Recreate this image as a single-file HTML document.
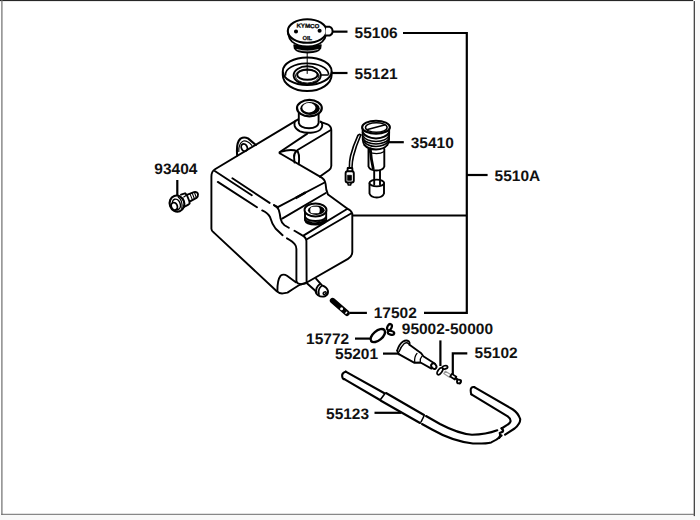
<!DOCTYPE html>
<html><head><meta charset="utf-8">
<style>
html,body{margin:0;padding:0;background:#fff;}
body{width:700px;height:520px;overflow:hidden;position:relative;}
svg{position:absolute;left:0;top:0;}
text{font-family:"Liberation Sans",sans-serif;font-weight:bold;font-size:15.2px;fill:#111;text-rendering:geometricPrecision;}
</style></head><body>
<svg width="700" height="520" viewBox="0 0 700 520" xmlns="http://www.w3.org/2000/svg">
<!-- frame -->
<rect x="0" y="0" width="700" height="520" fill="#fff"/>
<rect x="695" y="0" width="5" height="520" fill="#f9f9f9"/>
<rect x="0" y="515" width="700" height="5" fill="#f9f9f9"/>
<rect x="0" y="0" width="693.2" height="1.1" fill="#262626"/>
<rect x="1.3" y="0" width="1.2" height="515" fill="#6e6e6e"/>
<rect x="693.7" y="1.1" width="1.2" height="515" fill="#333"/>
<rect x="1.3" y="513.8" width="693" height="1.0" fill="#6a6a6a"/>

<!-- leader lines -->
<g stroke="#000" stroke-width="2.2" fill="none" stroke-linecap="butt">
<path d="M333,31.65H347.5"/>
<path d="M403,33H466.8V312.9H424" stroke-linejoin="miter"/>
<path d="M331,73H347.5"/>
<path d="M388.4,142.2H403.8"/>
<path d="M466.8,175H487.6"/>
<path d="M352.5,215.5H466.8"/>
<path d="M349.7,312.9H366.9"/>

<path d="M177.3,180V195"/>
<path d="M355,338.6H370"/>
<path d="M383,353.6H398.6"/>
<path d="M440.4,340.4V366"/>
<path d="M467.3,353.3H452.8V375.5" stroke-linejoin="miter"/>
<path d="M374.5,412.8H401.2"/>
</g>

<!-- labels -->
<text transform="translate(354.62 37.70) scale(1.02 1)">55106</text>
<text transform="translate(354.62 78.80) scale(1.02 1)">55121</text>
<text transform="translate(410.75 148.40) scale(1.02 1)">35410</text>
<text transform="translate(494.62 180.55) scale(1.02 1)">5510A</text>
<text transform="translate(154.36 174.25) scale(1.02 1)">93404</text>
<text transform="translate(373.72 317.85) scale(1.02 1)">17502</text>
<text transform="translate(306.12 344.05) scale(1.02 1)">15772</text>
<text transform="translate(401.76 334.45) scale(1.02 1)">95002-50000</text>
<text transform="translate(335.02 358.60) scale(1.02 1)">55201</text>
<text transform="translate(474.62 358.10) scale(1.02 1)">55102</text>
<text transform="translate(326.02 419.45) scale(1.02 1)">55123</text>

<!-- drawing -->
<g stroke="#000" stroke-width="1.9" fill="none" stroke-linecap="round" stroke-linejoin="round">
<!-- TANK -->
<!-- back edge + left silhouette + bottom -->
<path d="M298.6,119.1 L215,169.3 Q211.4,171.5 211.4,176.5 L211.4,228.7 Q211.4,231 213.9,232.6 L276.5,291 Q279.5,293.8 283,293.4 L287.5,292.6 Q293,289 298.5,285.5 Q302,283.8 306.8,282.6"/>
<path d="M296.4,281.5 Q297.5,284.3 301.5,284.2 Q305.5,284 306.6,282.3"/>
<!-- left face top lines -->
<path d="M214.8,171 L251.8,195.3 M232.4,178.2 L269.6,202.9 M273.9,205 L277.8,207.2 M217.8,181.9 L257,207.2"/>
<!-- groove curves -->
<path d="M262.2,210.4 Q268,213 270,217 Q272,224 275.5,228.5 L282.6,235.2 M287,238.3 Q293,241.5 295,244.5 Q296.4,246.5 296.4,249 L296.4,281.5"/>
<path d="M274.2,205.4 Q277.6,207 278.8,210 Q280,214 280.5,218.5 Q281.5,223 284.5,225.2 L288.8,227.7 M294.5,230.8 L302.3,235.4 Q306.2,237.5 306.4,241 L306.6,281.5"/>
<!-- groove bottom notch -->
<path d="M277.4,291.2 Q277.2,280 280.5,275.8 Q283.5,273.5 287,275.8 L295.8,282.2"/>
<!-- front face -->
<path d="M306.9,239.2 L351,213.5 M303.8,235.4 L347.5,208.8 Q351,210 352.3,213.5 L352.3,252 Q352.2,256.5 348,258.8 L307.2,282.3"/>
<!-- step lines -->
<path d="M296.3,198.6 L305.5,193.2 M295.8,197.3 L305,191.9" stroke-width="1.1"/>
<path d="M277.8,207.2 L324.6,182.5 M282.2,218.6 L325.8,193"/>
<!-- S curve and lower surface right boundary -->
<path d="M320,176.6 Q325,179 325.6,184 Q325.8,190 328,194.6 L347.5,208.8"/>
<!-- upper surface front edge from notch -->
<path d="M279.8,153.3 L320,176.6"/>
<!-- tower -->
<path d="M320.5,121.8 L327.5,124.3 Q331.3,126.5 331.3,130 L331.3,166 Q331,168.8 329.2,169.9 L320,176.6"/>
<path d="M307.3,133.6 L279.5,152.3 Q279.3,153 279.8,153.3 M330.4,130.2 L297.5,150"/>
<path d="M280.6,151.8 Q291,148.5 297.2,151.2 M296.5,151 Q293.5,154 294.1,157.3 Q294.3,160 294.5,162.5 M297.6,151 Q299.5,155 299.1,159 L298.8,164.3"/>
<!-- neck -->
<path d="M295.4,120.8 C293.4,123.5 293.8,128.5 300,131.3 C306,133.6 316,133.4 320.3,129.6 C323,127 322.8,123.5 320.8,121.6"/>
<path d="M298.8,113 L298.8,123 Q300,128 309,128.3 Q317.5,128 318.6,123 L318.6,113" fill="#fff"/>
<ellipse cx="309.4" cy="108.1" rx="12.4" ry="8.2" fill="#fff" stroke-width="2.2"/>
<ellipse cx="310" cy="108.5" rx="9.8" ry="6.4" fill="#000" stroke="none"/>
<ellipse cx="308.9" cy="107.7" rx="6.6" ry="4.7" fill="#fff" stroke="none"/>
<!-- lug -->
<path d="M237.2,155.5 Q236,142.5 240.5,138.6 Q244,136.6 248,138.4 L255.8,145" stroke-width="2.1"/>
<path d="M238.8,151.5 Q238.5,143 243.5,141 Q247.5,140.5 251.8,145.3" stroke-width="1.2"/>
<ellipse cx="244.3" cy="147.6" rx="2.9" ry="3.8" transform="rotate(-25 244.3 147.6)" stroke-width="1.8"/>
<!-- lower cap -->
<path d="M305,210.5 L305,220 Q306,224.5 315.5,224.5 Q325,224.5 326.2,220 L326.2,210.5" fill="#fff"/>
<path d="M305.3,217.3 Q308,220.8 315.5,221 Q323,220.8 326,217.3 M305.5,220.4 Q309,223 315.5,223.2 Q322,223 326,220.4"/>
<ellipse cx="315.5" cy="210" rx="11" ry="6.5" fill="#fff" stroke-width="1.9"/>
<ellipse cx="316.3" cy="210.3" rx="8.4" ry="4.7" fill="#000" stroke="none"/>
<rect x="310.3" y="206.7" width="9.4" height="6.6" rx="2.6" fill="#fff" stroke="none"/>
<!-- drain nipple -->
<path d="M316,278.6 L322,285.3 Q327,287 328,291 Q328.3,294.5 325.5,296 Q321.5,297.6 318,295.3 Q315.8,293.5 315.3,290.8 L307.2,283.5"/>
<path d="M319.6,284.3 Q315.4,287.6 316.4,292.6 M321.6,285.9 Q317.6,289.2 318.9,294.3" stroke-width="1.8"/>
<ellipse cx="324.7" cy="293.1" rx="1.7" ry="1.1" transform="rotate(-35 324.7 293.1)" stroke-width="1.5"/>

<!-- CAP 55106 -->
<path d="M294,45 L294.5,48.5 Q297,52.8 307.5,52.8 Q318,52.8 320.5,48.5 L321,45 Q315,47.2 307.5,47.2 Q300,47.2 294,45 Z" fill="#000" stroke-width="1.4"/>
<path d="M297,49.5 Q302,51 307.5,51 Q313,51 318,49.5" stroke="#fff" stroke-width="0.7"/>
<path d="M288.2,34 Q289,38.5 292,41.6 Q298,46.5 307.5,46.3 Q317,46.5 322.3,41.6 Q325.5,38.5 326.2,34" fill="#fff" stroke-width="1.8"/>
<ellipse cx="307.2" cy="31" rx="19.4" ry="11.8" fill="#fff" stroke-width="2.1"/>
<path d="M326.2,26.8 L329.8,26.8 Q332.6,27.8 332.6,31.3 Q332.6,34.6 329.8,35.5 L325.5,35.5" fill="#fff" stroke-width="1.9"/>
<circle cx="296" cy="31.5" r="1.1" fill="#000"/>
<circle cx="319.6" cy="30.8" r="1.1" fill="#000"/>
<line x1="307.2" y1="53" x2="307.2" y2="58" stroke-width="1"/>

<!-- SEAL 55121 -->
<path d="M282.8,72 L282.8,75 A24.4,16 0 0 0 331.6,75 L331.6,72" fill="#fff" stroke-width="2"/>
<ellipse cx="307.2" cy="71.2" rx="24.4" ry="13.8" fill="#fff" stroke-width="2"/>
<path d="M285.5,75 A21.4,11 0 0 1 328.6,74" stroke-width="1.7"/>
<ellipse cx="307.2" cy="75.3" rx="13.6" ry="9" fill="#fff" stroke-width="1.9"/>
<ellipse cx="307.2" cy="76" rx="11.8" ry="7" stroke-width="0.9"/>
<ellipse cx="307.4" cy="74.8" rx="10.2" ry="5" fill="#fff" stroke-width="1.9"/>
<path d="M320.8,75 L328,75" stroke-width="1.6"/>
<line x1="307.2" y1="58" x2="307.2" y2="73.5" stroke-width="1"/>

<!-- GAUGE 35410 -->
<path d="M362.6,128 L362.8,140 Q363.2,143.5 364.5,145 M389.2,128 L389,140 Q388.6,143.5 387.3,145"/>
<path d="M362.8,132.5 Q366,138 376,138.4 Q386,138 389.1,132.5" stroke-width="2"/>
<path d="M362.9,135.8 Q366,141 376,141.4 Q386,141 389,135.8" stroke-width="1.5"/>
<path d="M363.2,139 Q366.5,143.6 376,144 Q385.5,143.6 388.8,139" stroke-width="1.7"/>
<path d="M364,141.5 Q367,146.2 376,146.5 Q385,146.2 388.2,141.5" stroke-width="1.5"/>
<path d="M364.5,145 Q368,149.2 376,149.4 Q384,149.2 387.3,145" stroke-width="2"/>
<path d="M368.5,149 L368.5,166.5 Q370,170.5 376.5,170.5 Q383,170.5 384.3,166.5 L384.3,149"/>
<path d="M368.6,151.5 Q372,153.6 376.5,153.6 Q381,153.6 384.2,151.5" stroke-width="1.3"/>
<path d="M370.3,149 Q371,159 373.2,168.5" stroke-width="2.8"/>
<ellipse cx="376" cy="127.2" rx="13.9" ry="6.5" fill="#fff" stroke-width="2.1"/>
<ellipse cx="376.3" cy="127.5" rx="10.8" ry="4.7" stroke-width="1.5"/>
<path d="M367.5,129.5 L384.5,125" stroke-width="1.5"/>
<path d="M369.5,183.2 L369.5,193.5 Q371,197.5 376.8,197.5 Q382.5,197.5 384,193.5 L384,183.2"/>
<ellipse cx="376.8" cy="183" rx="7.3" ry="3.4" fill="#fff"/>
<path d="M374.2,170.5 L374.2,184.5 M380,170.5 L380,184.5"/>
<!-- wire -->
<path d="M357.8,135.6 Q353,146 350.5,156 Q349.3,161 349.4,167.5" stroke-width="1.6"/>
<path d="M360.8,135 Q356,146 353.5,156 Q352.2,161 352,167.5" stroke-width="1.6"/>
<path d="M357.8,135.6 Q359,133.6 360.8,135" stroke-width="1.6"/>
<path d="M347.5,171.3 L347.7,168 L352.3,168 L352.5,171.3"/>
<rect x="345.6" y="171.3" width="8.2" height="11.2" rx="2" fill="#fff" stroke-width="1.9"/>
<rect x="347.8" y="175.3" width="3.6" height="5" fill="#000" stroke-width="0.8"/>
<path d="M347.6,182.5 L348.3,185 L350.6,185 L351.3,182.5" stroke-width="1.5"/>

<!-- BOLT 93404 -->
<path d="M187.5,194.6 L194,192.2 Q197.5,191.5 198,194.2 Q198.2,196.7 196.5,197.9 L190.5,201.2" fill="#fff"/>
<path d="M190,193.9 L192.5,200.1 M192.2,193.1 L194.5,199 M194.4,192.3 L196.4,197.9" stroke-width="1.1"/>
<path d="M181,194.6 L185,193.3 L186.8,195 L189.3,201 L189.6,203.5 L187.5,205.2 L182,208" fill="#fff"/>
<path d="M186.8,195 L183.8,197" stroke-width="1.2"/>
<ellipse cx="177" cy="203.6" rx="7.3" ry="8.1" transform="rotate(-20 177 203.6)" fill="#fff" stroke-width="2.1"/>
<ellipse cx="176.4" cy="204.4" rx="3.8" ry="5.4" transform="rotate(-20 176.4 204.4)" stroke-width="1.5"/>
<path d="M178.3,197.3 Q183,200.5 181.8,208.5" stroke-width="1.2"/>
<ellipse cx="174.3" cy="206.3" rx="3" ry="3.8" transform="rotate(-20 174.3 206.3)" fill="#fff" stroke-width="1.8"/>

<!-- FITTING 17502 -->
<path d="M332.6,300.6 L347,313.2" stroke-width="5.6"/>
<circle cx="341.6" cy="308.7" r="1.5" fill="#fff" stroke="none"/>
<ellipse cx="346.3" cy="312.8" rx="0.8" ry="1.4" transform="rotate(40 346.3 312.8)" fill="#fff" stroke="none"/>

<!-- CLIP 15772 -->
<ellipse cx="377.8" cy="335.6" rx="8.6" ry="4.6" transform="rotate(-40 377.8 335.6)" stroke-width="2.4"/>
<ellipse cx="389.5" cy="327.2" rx="2.1" ry="3.3" transform="rotate(25 389.5 327.2)" stroke-width="2.2"/>
<ellipse cx="391" cy="332.8" rx="3.3" ry="1.9" transform="rotate(15 391 332.8)" stroke-width="2.2"/>

<!-- 55201 -->
<path d="M408.5,344 L421.2,353.2 L423.3,356.3 L435,363.7 M398.8,354.2 L414.5,362.8 L420.5,362.5 L431.4,368.6" fill="none"/>
<path d="M397.2,350.5 Q399,344.5 403,341.5 Q406.5,339.5 409,341.5 Q410.3,343 409.3,344.5" fill="#fff" stroke-width="1.8"/>
<path d="M399.2,351.5 Q401,346.5 404.5,343.3 Q407,342 408.6,343.8" stroke-width="1.4"/>
<path d="M397.2,350.5 L398.8,354.2"/>
<path d="M417,353.4 Q414,357 414.8,362 M421.7,356.6 Q419.5,359 420.3,362" stroke-width="1.3"/>
<ellipse cx="433.8" cy="366.2" rx="2.3" ry="3" transform="rotate(-40 433.8 366.2)" fill="#fff" stroke-width="1.9"/>

<!-- 95002-50000 clip -->
<ellipse cx="440" cy="371.2" rx="2" ry="4" transform="rotate(35 440 371.2)" stroke-width="1.7"/>
<ellipse cx="445" cy="367.3" rx="2.7" ry="1.6" transform="rotate(-15 445 367.3)" stroke-width="1.7"/>

<!-- 55102 nipple -->
<path d="M443.8,373.6 L445.4,371.2 L451,374.7 L449.4,377.3 Z" stroke="#999" stroke-width="1.2"/>
<path d="M450.2,376.5 L451.8,373.9 L456.4,376.8 L454.8,379.5 Z" fill="#fff" stroke-width="1.7"/>
<path d="M455.5,378.2 L457.5,379.5" stroke-width="2.2"/>
<circle cx="458.9" cy="381.5" r="1.9" fill="#fff" stroke-width="1.9"/>
<path d="M459.8,383.6 Q461.5,382.5 461,380.3" stroke-width="1.6"/>

<!-- HOSE 55123 -->
<g stroke-width="2.1">
<path d="M345.7,371.7 L384,393 M386,393 L424,415 M426,416 L440,424 Q458,433.5 472,434.8 Q486,434.5 497.3,430.3"/>
<path d="M344.3,379.1 L380,400 M380.5,400.5 L420,423 M422,424 L432,429.5 Q452,441 472.9,443.5 Q486,443.8 491.2,442.4 Q497,440 501.6,435.5"/>
<path d="M345.7,371.7 Q341.5,373 342.2,376.5 Q342.8,379.6 344.3,379.1"/>
<path d="M385,393.5 L380.5,399.5 M424,416 L421,422" stroke-width="1.6"/>
<path d="M474.3,387.1 L512.9,409.5 Q518,412.8 520.2,419 Q520.5,423.5 514.6,428.5 L505.1,434.6 M471.4,394.3 L507.7,416.4 Q511,418.8 510.5,421.5 Q509.5,424 506.8,425.1 L501.6,428.5"/>
<path d="M474.3,387.1 Q470.5,386.5 470.7,390.5 Q470.8,393.6 471.4,394.3"/>
<path d="M501.6,428.2 Q503.8,430.3 502.6,431.8 L499.8,433 Q501,435.5 499.2,437.8" stroke-width="2.3"/>
</g>
</g>
<!-- tiny text on cap -->
<text transform="translate(296.4 27.4) rotate(2) scale(1.06 1)" style="font-size:5.8px;stroke:#000;stroke-width:0.3">KYMCO</text>
<text transform="translate(302.4 40.2)" style="font-size:5.8px;stroke:#000;stroke-width:0.25">OIL</text>
</svg>
</body></html>
